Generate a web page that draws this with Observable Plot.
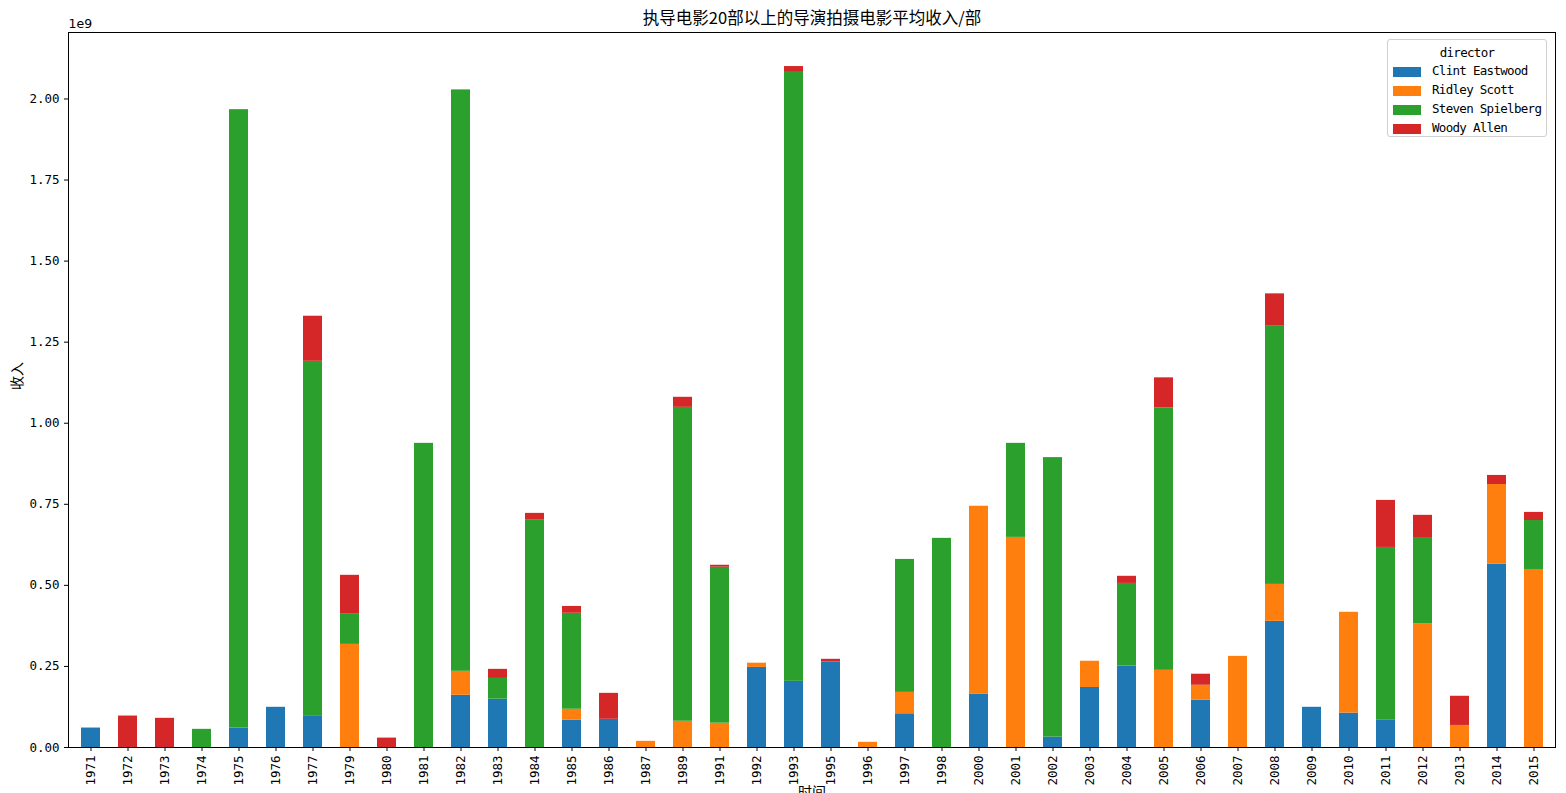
<!DOCTYPE html>
<html>
<head>
<meta charset="utf-8">
<script src="https://cdn.jsdelivr.net/npm/d3@7"></script>
<script src="https://cdn.jsdelivr.net/npm/@observablehq/plot@0.6"></script>
<style>
  html, body { margin: 0; padding: 0; background: #fff; }
  #wrap { position: relative; width: 1566px; height: 793px; overflow: hidden; }
  #legend { position: absolute; left: 1387px; top: 39px; width: 160px; height: 98px;
    box-sizing: border-box; border: 1px solid #d0d0d0; border-radius: 3px; background: rgba(255,255,255,0.8);
    font-family: "DejaVu Sans Mono", monospace; font-size: 12.5px; letter-spacing: -0.7px; color: #000; }
  #legend .title { position: absolute; top: 5px; left: 0; width: 100%; text-align: center; }
  #legend .row { position: absolute; left: 5px; height: 12px; }
  #legend .sw { position: absolute; left: 0; top: 1px; width: 28px; height: 10px; }
  #legend .lab { position: absolute; left: 39px; top: -3px; white-space: nowrap; }
</style>
</head>
<body>
<div id="wrap"></div>
<script>
const years = ["1971","1972","1973","1974","1975","1976","1977","1979","1980","1981","1982","1983","1984","1985","1986","1987","1989","1991","1992","1993","1995","1996","1997","1998","2000","2001","2002","2003","2004","2005","2006","2007","2008","2009","2010","2011","2012","2013","2014","2015"];
const directors = ["Clint Eastwood", "Ridley Scott", "Steven Spielberg", "Woody Allen"];
const colors = ["#1f77b4", "#ff7f0e", "#2ca02c", "#d62728"];
// values in units of 1e9
const clintEastwood = [0.060,0,0,0,0.060,0.124,0.098,0,0,0,0.161,0.149,0,0.084,0.087,0,0,0,0.247,0.204,0.264,0,0.104,0,0.164,0,0.032,0.185,0.251,0,0.146,0,0.389,0.124,0.106,0.084,0,0,0.565,0];
const ridleyScott   = [0,0,0,0,0,0,0,0.318,0,0,0.074,0,0,0.034,0,0.019,0.081,0.075,0.013,0,0,0.016,0.066,0,0.580,0.648,0,0.081,0,0.238,0.046,0.281,0.114,0,0.311,0,0.382,0.068,0.246,0.549];
const stevenSpielberg = [0,0,0,0.056,1.907,0,1.093,0.093,0,0.938,1.793,0.064,0.701,0.296,0,0,0.968,0.481,0,1.878,0,0,0.410,0.645,0,0.290,0.862,0,0.255,0.809,0,0,0.798,0,0,0.533,0.263,0,0,0.151];
const woodyAllen    = [0,0.097,0.090,0,0,0,0.139,0.120,0.029,0,0,0.028,0.021,0.021,0.080,0,0.031,0.006,0,0.018,0.008,0,0,0,0,0,0,0,0.022,0.093,0.034,0,0.098,0,0,0.145,0.071,0.090,0.028,0.025];
const yTicks = [0, 0.25, 0.5, 0.75, 1.0, 1.25, 1.5, 1.75, 2.0];
const titleText = "执导电影20部以上的导演拍摄电影平均收入/部";
const yLabel = "收入";
const xLabel = "时间";

const series = [clintEastwood, ridleyScott, stevenSpielberg, woodyAllen];
const data = [];
years.forEach((y, i) => {
  series.forEach((s, k) => {
    if (s[i] > 0) data.push({year: y, director: directors[k], value: s[i]});
  });
});

const mono = "DejaVu Sans Mono, monospace";
const cjk = "Noto Sans CJK SC, sans-serif";

const chart = Plot.plot({
  width: 1566,
  height: 793,
  marginLeft: 68,
  marginRight: 11,
  marginTop: 32,
  marginBottom: 46,
  style: {fontFamily: mono, fontSize: "12.5px", background: "#fff", color: "#000"},
  x: {type: "band", domain: years, paddingInner: 0.5, paddingOuter: 0.25, align: 0.5, label: null},
  y: {domain: [0, 2.205], label: null},
  color: {domain: directors, range: colors},
  marks: [
    Plot.barY(data, Plot.stackY({order: null}, {x: "year", y: "value", fill: "director"})),
    Plot.frame({stroke: "#000", strokeWidth: 1}),
    Plot.axisY({ticks: yTicks, tickSize: 4, tickPadding: 5, tickFormat: d => d.toFixed(2), label: null, stroke: "#000", style: {letterSpacing: "-0.6px"}}),
    Plot.axisX({tickSize: 4, tickPadding: 4, tickRotate: -90, label: null, style: {letterSpacing: "-0.6px"}}),
    Plot.text([titleText], {frameAnchor: "top", dy: -14, text: d => d, fontSize: 16.5, fontFamily: cjk, lineAnchor: "middle"}),
    Plot.text(["1e9"], {frameAnchor: "top-left", dy: -9, dx: 0, text: d => d, textAnchor: "start", fontSize: 12.5, fontFamily: "DejaVu Sans, sans-serif", lineAnchor: "middle"}),
    Plot.text([yLabel], {frameAnchor: "left", dx: -51, text: d => d, rotate: -90, fontSize: 14, fontFamily: cjk, lineAnchor: "middle"}),
    Plot.text([xLabel], {frameAnchor: "bottom", dy: 40, text: d => d, fontSize: 14, fontFamily: cjk, lineAnchor: "top"})
  ]
});
document.getElementById("wrap").appendChild(chart);

const legend = document.createElement("div");
legend.id = "legend";
let html = `<div class="title">director</div>`;
directors.forEach((d, i) => {
  html += `<div class="row" style="top:${26 + i * 19}px"><div class="sw" style="background:${colors[i]}"></div><div class="lab">${d}</div></div>`;
});
legend.innerHTML = html;
document.getElementById("wrap").appendChild(legend);
</script>
</body>
</html>
